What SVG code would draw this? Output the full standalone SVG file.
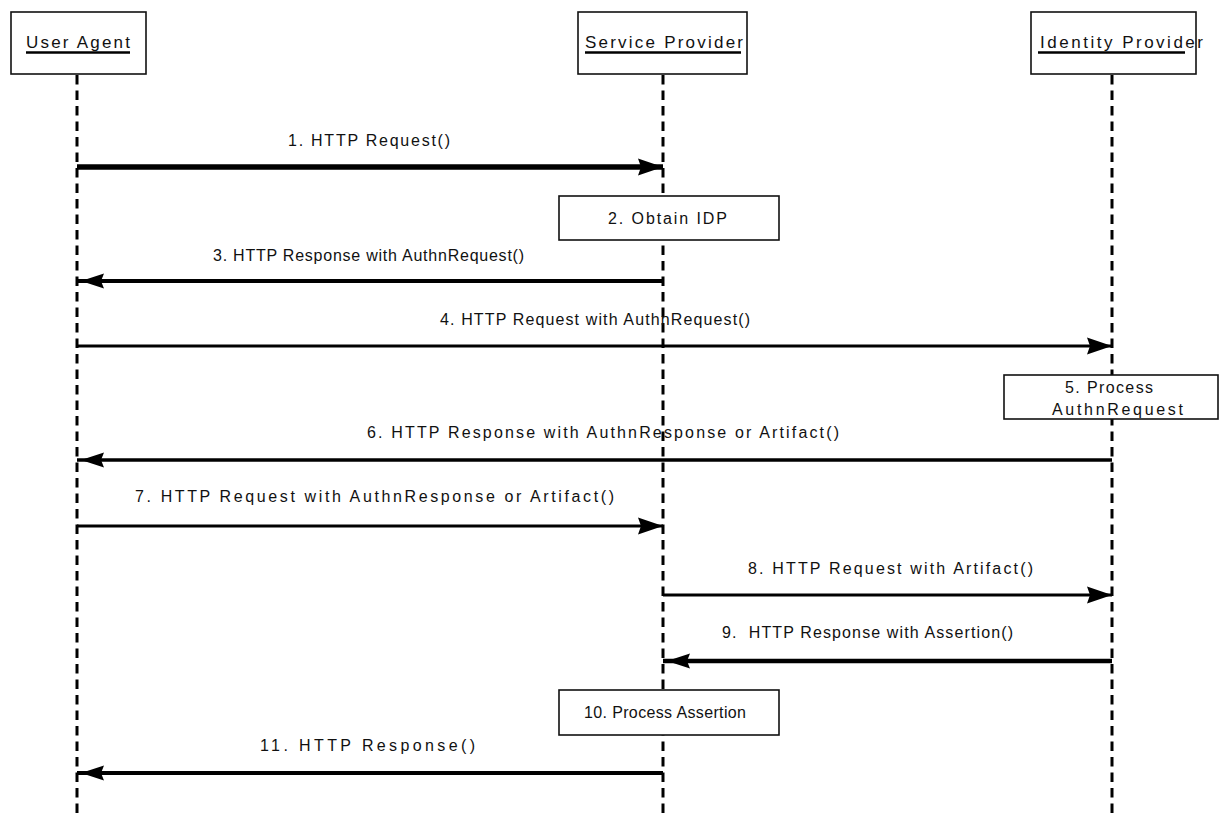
<svg xmlns="http://www.w3.org/2000/svg" width="1219" height="819" viewBox="0 0 1219 819">
  <style>
    .box { fill: #fff; stroke: #111; stroke-width: 1.6; }
    .life { stroke: #000; stroke-width: 3; stroke-dasharray: 9.5 6; fill: none; }
    .msg { stroke: #000; fill: none; }
    .hdr { font-family: "Liberation Sans", Arial, sans-serif; font-size: 17px; fill: #111; }
    .lbl { font-family: "Liberation Sans", Arial, sans-serif; font-size: 16px; fill: #111; }
    .ul { stroke: #000; stroke-width: 2.6; }
  </style>
  <defs>
    <!-- filled arrowhead, tip at the reference point -->
    <marker id="arrowR" markerUnits="userSpaceOnUse" markerWidth="30" markerHeight="20" viewBox="-28 -10 30 20" refX="0" refY="0" orient="auto" overflow="visible">
      <path d="M0,0 L-25,-8.5 L-22,0 L-25,8.5 Z" fill="#000"/>
    </marker>
    <!-- same head, tip held a few pixels short of the line end -->
    <marker id="arrowL" markerUnits="userSpaceOnUse" markerWidth="30" markerHeight="20" viewBox="-28 -10 30 20" refX="4" refY="0" orient="auto" overflow="visible">
      <path d="M0,0 L-23,-7.5 L-20,0 L-23,7.5 Z" fill="#000"/>
    </marker>
  </defs>

  <rect width="1219" height="819" fill="#fff"/>

  <!-- lifelines -->
  <g id="lifelines">
    <line class="life" x1="77" y1="75" x2="77" y2="819"/>
    <line class="life" x1="663" y1="75" x2="663" y2="819"/>
    <line class="life" x1="1112" y1="75" x2="1112" y2="819"/>
  </g>

  <!-- participants -->
  <g id="user-agent">
    <rect class="box" x="11" y="12" width="135" height="62"/>
    <text class="hdr" x="26" y="48" textLength="104" lengthAdjust="spacing">User Agent</text>
    <line class="ul" x1="26" y1="52.5" x2="130" y2="52.5"/>
  </g>
  <g id="service-provider">
    <rect class="box" x="578" y="12" width="169" height="62"/>
    <text class="hdr" x="585" y="48" textLength="158" lengthAdjust="spacing">Service Provider</text>
    <line class="ul" x1="585" y1="52.5" x2="741" y2="52.5"/>
  </g>
  <g id="identity-provider">
    <rect class="box" x="1031" y="12" width="165" height="62"/>
    <text class="hdr" x="1040" y="48" textLength="163" lengthAdjust="spacing">Identity Provider</text>
    <line class="ul" x1="1038" y1="52.5" x2="1185" y2="52.5"/>
  </g>

  <!-- activity boxes -->
  <g id="obtain-idp">
    <rect class="box" x="559" y="196" width="220" height="44"/>
    <text class="lbl" x="608" y="224" textLength="119" lengthAdjust="spacing">2. Obtain IDP</text>
  </g>
  <g id="process-authnrequest">
    <rect class="box" x="1004" y="375" width="214" height="44"/>
    <text class="lbl" x="1065" y="393" textLength="88" lengthAdjust="spacing">5. Process</text>
    <text class="lbl" x="1052" y="415" textLength="131" lengthAdjust="spacing">AuthnRequest</text>
  </g>
  <g id="process-assertion">
    <rect class="box" x="559" y="690" width="220" height="45"/>
    <text class="lbl" x="584" y="718" textLength="162" lengthAdjust="spacing">10. Process Assertion</text>
  </g>

  <!-- messages -->
  <g id="connectors">
    <line class="msg" x1="77" y1="167" x2="663" y2="167" stroke-width="5.5" marker-end="url(#arrowR)"/>
    <line class="msg" x1="663" y1="281" x2="77" y2="281" stroke-width="4" marker-end="url(#arrowL)"/>
    <line class="msg" x1="77" y1="346" x2="1112" y2="346" stroke-width="3" marker-end="url(#arrowR)"/>
    <line class="msg" x1="1112" y1="460" x2="77" y2="460" stroke-width="3.5" marker-end="url(#arrowL)"/>
    <line class="msg" x1="77" y1="526" x2="663" y2="526" stroke-width="3" marker-end="url(#arrowR)"/>
    <line class="msg" x1="663" y1="595" x2="1112" y2="595" stroke-width="3" marker-end="url(#arrowR)"/>
    <line class="msg" x1="1112" y1="661" x2="663" y2="661" stroke-width="4.5" marker-end="url(#arrowL)"/>
    <line class="msg" x1="663" y1="773" x2="77" y2="773" stroke-width="4" marker-end="url(#arrowL)"/>
  </g>

  <!-- message labels -->
  <g id="labels">
    <text class="lbl" x="288" y="146" textLength="162" lengthAdjust="spacing">1. HTTP Request()</text>
    <text class="lbl" x="213" y="261" textLength="311" lengthAdjust="spacing">3. HTTP Response with AuthnRequest()</text>
    <text class="lbl" x="440" y="325" textLength="310" lengthAdjust="spacing">4. HTTP Request with AuthnRequest()</text>
    <text class="lbl" x="367" y="438" textLength="472" lengthAdjust="spacing">6. HTTP Response with AuthnResponse or Artifact()</text>
    <text class="lbl" x="135" y="502" textLength="479" lengthAdjust="spacing">7. HTTP Request with AuthnResponse or Artifact()</text>
    <text class="lbl" x="748" y="574" textLength="285" lengthAdjust="spacing">8. HTTP Request with Artifact()</text>
    <text class="lbl" x="722" y="638" textLength="291" lengthAdjust="spacing" xml:space="preserve">9.  HTTP Response with Assertion()</text>
    <text class="lbl" x="260" y="751" textLength="215" lengthAdjust="spacing">11. HTTP Response()</text>
  </g>
</svg>
